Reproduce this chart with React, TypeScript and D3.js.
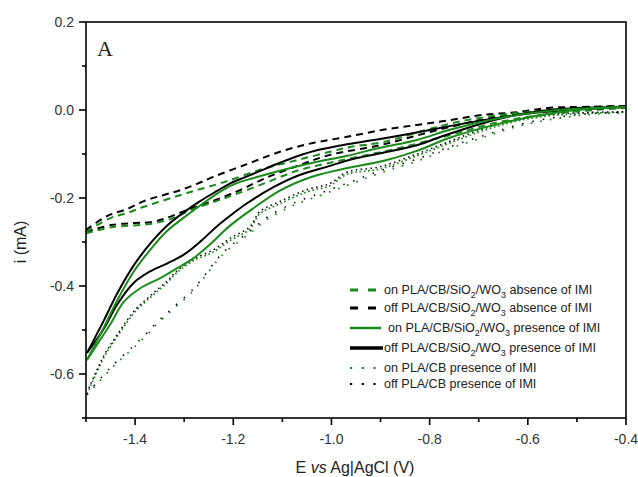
import React from "react";
import * as d3 from "d3";

type P = [number, number];

const X_DOMAIN: [number, number] = [-1.5, -0.4];
const Y_DOMAIN: [number, number] = [-0.7, 0.2];
const X_MAJOR = [-1.4, -1.2, -1.0, -0.8, -0.6, -0.4];
const X_MINOR = [-1.5, -1.3, -1.1, -0.9, -0.7, -0.5];
const Y_MAJOR = [0.2, 0.0, -0.2, -0.4, -0.6];
const Y_MINOR = [0.1, -0.1, -0.3, -0.5, -0.7];

// off PLA/CB/SiO2/WO3 presence of IMI (black solid)
const offPresUpper: P[] = [[-1.498,-0.552],[-1.463,-0.477],[-1.437,-0.418],[-1.402,-0.352],[-1.368,-0.302],[-1.335,-0.263],[-1.3,-0.232],[-1.266,-0.206],[-1.233,-0.184],[-1.205,-0.166],[-1.172,-0.151],[-1.14,-0.136],[-1.105,-0.12],[-1.07,-0.105],[-1.038,-0.094],[-0.968,-0.078],[-0.901,-0.066],[-0.826,-0.051],[-0.691,-0.023],[-0.59,-0.007],[-0.488,0.002],[-0.4,0.007]];
const offPresLower: P[] = [[-1.498,-0.552],[-1.463,-0.496],[-1.437,-0.443],[-1.402,-0.392],[-1.368,-0.366],[-1.335,-0.349],[-1.3,-0.328],[-1.266,-0.298],[-1.233,-0.264],[-1.199,-0.234],[-1.172,-0.212],[-1.119,-0.176],[-1.07,-0.15],[-1.003,-0.127],[-0.962,-0.113],[-0.895,-0.097],[-0.826,-0.08],[-0.773,-0.059],[-0.691,-0.03],[-0.622,-0.011],[-0.555,0.0],[-0.488,0.005],[-0.4,0.007]];

// on PLA/CB/SiO2/WO3 presence of IMI (green solid)
const onPresUpper: P[] = [[-1.498,-0.568],[-1.463,-0.493],[-1.437,-0.434],[-1.402,-0.366],[-1.368,-0.316],[-1.335,-0.275],[-1.3,-0.244],[-1.266,-0.216],[-1.233,-0.19],[-1.199,-0.169],[-1.16,-0.155],[-1.105,-0.138],[-1.038,-0.12],[-0.968,-0.104],[-0.901,-0.086],[-0.826,-0.068],[-0.759,-0.045],[-0.657,-0.018],[-0.555,-0.002],[-0.453,0.005],[-0.4,0.007]];
const onPresLower: P[] = [[-1.498,-0.568],[-1.449,-0.484],[-1.423,-0.436],[-1.388,-0.404],[-1.347,-0.381],[-1.315,-0.36],[-1.28,-0.336],[-1.245,-0.303],[-1.219,-0.275],[-1.199,-0.256],[-1.16,-0.224],[-1.105,-0.183],[-1.038,-0.151],[-0.968,-0.132],[-0.895,-0.116],[-0.826,-0.093],[-0.759,-0.063],[-0.657,-0.031],[-0.555,-0.008],[-0.474,0.003],[-0.4,0.007]];

// on PLA/CB presence of IMI (green dotted)
const onCBUpper: P[] = [[-1.494,-0.636],[-1.463,-0.561],[-1.437,-0.516],[-1.402,-0.461],[-1.368,-0.425],[-1.335,-0.393],[-1.315,-0.37],[-1.282,-0.343],[-1.241,-0.323],[-1.207,-0.297],[-1.166,-0.27],[-1.146,-0.236],[-1.105,-0.213],[-1.05,-0.186],[-1.003,-0.172],[-0.968,-0.146],[-0.901,-0.134],[-0.826,-0.104],[-0.759,-0.075],[-0.691,-0.047],[-0.622,-0.025],[-0.555,-0.013],[-0.488,-0.008],[-0.4,-0.005]];
const onCBLower: P[] = [[-1.498,-0.648],[-1.447,-0.586],[-1.382,-0.518],[-1.355,-0.486],[-1.335,-0.466],[-1.315,-0.445],[-1.286,-0.416],[-1.26,-0.382],[-1.233,-0.343],[-1.213,-0.32],[-1.166,-0.28],[-1.13,-0.248],[-1.08,-0.218],[-1.02,-0.193],[-0.96,-0.168],[-0.9,-0.143],[-0.83,-0.118],[-0.76,-0.088],[-0.69,-0.062],[-0.62,-0.037],[-0.55,-0.021],[-0.48,-0.011],[-0.4,-0.006]];

// off PLA/CB presence of IMI (black dotted)
const offCBUpper: P[] = [[-1.494,-0.632],[-1.463,-0.557],[-1.437,-0.512],[-1.402,-0.457],[-1.368,-0.421],[-1.335,-0.389],[-1.315,-0.366],[-1.282,-0.339],[-1.241,-0.318],[-1.207,-0.292],[-1.166,-0.265],[-1.146,-0.231],[-1.105,-0.208],[-1.05,-0.181],[-1.003,-0.167],[-0.968,-0.141],[-0.901,-0.129],[-0.826,-0.1],[-0.759,-0.071],[-0.691,-0.043],[-0.622,-0.021],[-0.555,-0.01],[-0.488,-0.006],[-0.4,-0.004]];
const offCBLower: P[] = [[-1.498,-0.645],[-1.447,-0.582],[-1.382,-0.514],[-1.355,-0.482],[-1.335,-0.462],[-1.315,-0.441],[-1.286,-0.412],[-1.26,-0.378],[-1.233,-0.339],[-1.213,-0.316],[-1.166,-0.275],[-1.13,-0.243],[-1.08,-0.213],[-1.02,-0.188],[-0.96,-0.163],[-0.9,-0.138],[-0.83,-0.113],[-0.76,-0.084],[-0.69,-0.058],[-0.62,-0.034],[-0.55,-0.018],[-0.48,-0.009],[-0.4,-0.005]];

// off PLA/CB/SiO2/WO3 absence of IMI (black dashed)
const offAbsUpper: P[] = [[-1.5,-0.273],[-1.457,-0.241],[-1.416,-0.225],[-1.382,-0.207],[-1.341,-0.193],[-1.307,-0.182],[-1.274,-0.168],[-1.241,-0.152],[-1.172,-0.123],[-1.105,-0.095],[-1.038,-0.075],[-0.968,-0.061],[-0.895,-0.045],[-0.826,-0.034],[-0.759,-0.023],[-0.691,-0.011],[-0.622,-0.005],[-0.555,0.005],[-0.488,0.007],[-0.4,0.009]];
const offAbsLower: P[] = [[-1.5,-0.277],[-1.445,-0.261],[-1.402,-0.257],[-1.368,-0.255],[-1.335,-0.245],[-1.294,-0.227],[-1.237,-0.205],[-1.186,-0.182],[-1.135,-0.155],[-1.064,-0.125],[-1.003,-0.102],[-0.901,-0.08],[-0.799,-0.05],[-0.698,-0.023],[-0.596,-0.005],[-0.494,0.005],[-0.4,0.009]];

// on PLA/CB/SiO2/WO3 absence of IMI (green dashed)
const onAbsUpper: P[] = [[-1.5,-0.277],[-1.449,-0.245],[-1.416,-0.234],[-1.382,-0.22],[-1.341,-0.205],[-1.307,-0.193],[-1.274,-0.182],[-1.219,-0.164],[-1.14,-0.134],[-1.07,-0.114],[-1.003,-0.095],[-0.962,-0.084],[-0.895,-0.073],[-0.793,-0.041],[-0.724,-0.023],[-0.622,-0.007],[-0.488,0.002],[-0.4,0.007]];
const onAbsLower: P[] = [[-1.5,-0.28],[-1.445,-0.266],[-1.37,-0.259],[-1.32,-0.245],[-1.286,-0.227],[-1.245,-0.211],[-1.199,-0.193],[-1.135,-0.166],[-1.07,-0.138],[-1.003,-0.12],[-0.936,-0.104],[-0.86,-0.086],[-0.759,-0.057],[-0.657,-0.027],[-0.555,-0.009],[-0.4,0.005]];

const GREEN = "#1a8a1a";
const BLACK = "#000000";

const LEGEND_LABELS = [
  { pre: "on PLA/CB/SiO", s1: "2", mid: "/WO", s2: "3", post: " absence of IMI" },
  { pre: "off PLA/CB/SiO", s1: "2", mid: "/WO", s2: "3", post: " absence of IMI" },
  { pre: "on PLA/CB/SiO", s1: "2", mid: "/WO", s2: "3", post: " presence of IMI" },
  { pre: "off PLA/CB/SiO", s1: "2", mid: "/WO", s2: "3", post: " presence of IMI" },
  { pre: "on PLA/CB presence of IMI", s1: "", mid: "", s2: "", post: "" },
  { pre: "off PLA/CB presence of IMI", s1: "", mid: "", s2: "", post: "" },
];

const W = 638, H = 477;
const L = 86, R = 626, T = 22, B = 418;

export default function App() {
  const x = d3.scaleLinear().domain(X_DOMAIN).range([L, R]);
  const y = d3.scaleLinear().domain(Y_DOMAIN).range([B, T]);
  const line = d3
    .line<P>()
    .x((d) => x(d[0]))
    .y((d) => y(d[1]))
    .curve(d3.curveCatmullRom.alpha(0.5));

  const curves = [
    { d: onCBUpper, color: GREEN, w: 1.7, dash: "1.7 2.6" },
    { d: onCBLower, color: GREEN, w: 1.7, dash: "1.7 8" },
    { d: offCBUpper, color: BLACK, w: 1.5, dash: "1.5 3.4" },
    { d: offCBLower, color: BLACK, w: 1.5, dash: "1.5 9" },
    { d: offAbsUpper, color: BLACK, w: 2, dash: "7 5" },
    { d: offAbsLower, color: BLACK, w: 2, dash: "7 5" },
    { d: onAbsUpper, color: GREEN, w: 2, dash: "7 5" },
    { d: onAbsLower, color: GREEN, w: 2, dash: "7 5" },
    { d: offPresUpper, color: BLACK, w: 2, dash: "" },
    { d: offPresLower, color: BLACK, w: 2, dash: "" },
    { d: onPresUpper, color: GREEN, w: 2, dash: "" },
    { d: onPresLower, color: GREEN, w: 2, dash: "" },
  ];

  const legendStyles = [
    { color: GREEN, w: 3, dash: "8 10", x2: 378, tx: 384 },
    { color: BLACK, w: 3, dash: "8 10", x2: 378, tx: 384 },
    { color: GREEN, w: 2.5, dash: "", x2: 381, tx: 388 },
    { color: BLACK, w: 3.5, dash: "", x2: 383, tx: 384 },
    { color: GREEN, w: 2.2, dash: "2.2 9.5", x2: 376, tx: 384 },
    { color: BLACK, w: 2.2, dash: "2.2 9.5", x2: 376, tx: 384 },
  ];
  const legendY = [290, 308, 328, 348, 368, 384];

  const font = "'Liberation Sans', Arial, sans-serif";
  const tickColor = "#333";

  return (
    <svg
      width={W}
      height={H}
      style={{ position: "absolute", left: 0, top: 0, background: "#fff" }}
      fontFamily={font}
    >
      <rect x={0} y={0} width={W} height={H} fill="#fff" />
      <defs>
        <clipPath id="plot">
          <rect x={L} y={T} width={R - L} height={B - T} />
        </clipPath>
      </defs>
      <g clipPath="url(#plot)">
        {curves.map((c, i) => (
          <path
            key={i}
            d={line(c.d) || ""}
            fill="none"
            stroke={c.color}
            strokeWidth={c.w}
            strokeDasharray={c.dash || undefined}
          />
        ))}
      </g>
      {/* frame */}
      <rect x={L} y={T} width={R - L} height={B - T} fill="none" stroke="#000" strokeWidth={1.6} />
      {/* x ticks */}
      {X_MAJOR.map((v) => (
        <g key={"xm" + v}>
          <line x1={x(v)} x2={x(v)} y1={B} y2={B + 7} stroke="#000" strokeWidth={1.6} />
          <text x={x(v)} y={444} textAnchor="middle" fontSize={14} fill={tickColor}>
            {v.toFixed(1)}
          </text>
        </g>
      ))}
      {X_MINOR.map((v) => (
        <line key={"xn" + v} x1={x(v)} x2={x(v)} y1={B} y2={B + 4} stroke="#000" strokeWidth={1.6} />
      ))}
      {Y_MAJOR.map((v) => (
        <g key={"ym" + v}>
          <line x1={L - 7} x2={L} y1={y(v)} y2={y(v)} stroke="#000" strokeWidth={1.6} />
          <text x={74} y={y(v) + 5} textAnchor="end" fontSize={14} fill={tickColor}>
            {v.toFixed(1)}
          </text>
        </g>
      ))}
      {Y_MINOR.map((v) => (
        <line key={"yn" + v} x1={L - 4} x2={L} y1={y(v)} y2={y(v)} stroke="#000" strokeWidth={1.6} />
      ))}
      {/* axis titles */}
      <text x={355} y={473} textAnchor="middle" fontSize={16} fill="#222">
        E <tspan fontStyle="italic">vs</tspan> Ag|AgCl (V)
      </text>
      <text
        transform={`translate(26, 242) rotate(-90)`}
        textAnchor="middle"
        fontSize={16}
        fill="#222"
      >
        i (mA)
      </text>
      {/* panel label */}
      <text x={97} y={56} fontSize={22} fontFamily="'Liberation Serif', 'DejaVu Serif', serif" fill="#222">
        A
      </text>
      {/* legend */}
      {LEGEND_LABELS.map((lab, i) => {
        const s = legendStyles[i];
        const ly = legendY[i];
        return (
          <g key={"lg" + i}>
            <line
              x1={350}
              x2={s.x2}
              y1={ly}
              y2={ly}
              stroke={s.color}
              strokeWidth={s.w}
              strokeDasharray={s.dash || undefined}
            />
            <text x={s.tx} y={ly + 4} fontSize={12.6} fill="#222">
              {lab.pre}
              {lab.s1 && (
                <tspan fontSize={9} dy={4}>
                  {lab.s1}
                </tspan>
              )}
              {lab.mid && <tspan dy={-4}>{lab.mid}</tspan>}
              {lab.s2 && (
                <tspan fontSize={9} dy={4}>
                  {lab.s2}
                </tspan>
              )}
              {lab.post && <tspan dy={-4}>{lab.post}</tspan>}
            </text>
          </g>
        );
      })}
    </svg>
  );
}
